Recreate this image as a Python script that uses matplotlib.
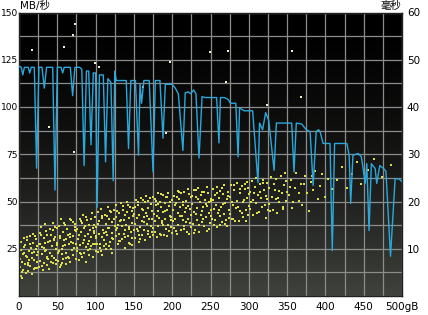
import matplotlib
matplotlib.use("Agg")
import matplotlib.pyplot as plt
import numpy as np
from matplotlib.ticker import MultipleLocator

# ---------------- data ----------------
# transfer rate (MB/s) vs position (GB)
TR_GB = [0, 3, 5, 7, 12, 14, 16, 20, 23, 26, 30, 33, 36, 44, 47, 50, 55, 57, 59, 67,
         70, 73, 79, 82, 85, 88, 91, 94, 97, 100, 102, 105, 110, 113, 116, 120, 123, 125,
         127, 133, 140, 143, 146, 152, 156, 158, 160, 163, 170, 175, 178, 184, 188, 191,
         197, 200, 204, 208, 214, 217, 221, 224, 228, 231, 235, 239, 243, 258, 261, 263,
         268, 273, 276, 283, 286, 288, 294, 297, 305, 312, 314, 318, 322, 326, 333, 336,
         345, 356, 359, 362, 369, 375, 380, 384, 388, 391, 393, 397, 406, 409, 412, 428,
         431, 433, 436, 443, 447, 452, 454, 457, 460, 465, 467, 471, 476, 479, 485, 491,
         496, 500]
TR_MB = [121.5, 121, 117, 121, 121, 118, 121, 121, 67.6, 121, 121, 110, 121, 121, 56, 121,
         121, 118, 121, 121, 106, 121, 121, 120, 69, 119, 119, 80, 118, 118, 47, 117, 117,
         71, 115, 113, 61, 119, 114, 114, 114, 78, 114, 114, 74.5, 112, 102, 114, 114, 65.6,
         114, 114, 83.5, 112, 112, 112, 110, 107, 77, 107.5, 108, 107, 109, 107, 73, 105.5,
         105, 105, 81, 105, 105, 104, 102, 102, 73.6, 99.5, 98, 98, 98, 60, 91.5, 88, 97,
         93, 66.5, 91.5, 91.5, 91.5, 65.6, 91.5, 91, 88, 87, 58.5, 87, 88, 87, 80.7, 80.7,
         24, 80.7, 80.7, 74.5, 49, 74.5, 75.4, 73.6, 59.6, 70, 34.6, 70, 67.4, 59.6, 69,
         67.4, 66, 21, 62, 62, 60.5]

# access time (ms) vs position (GB)
AT_GB = [1, 2, 2, 3, 4, 5, 5, 6, 7, 8, 8, 9, 10, 11, 12, 12, 13, 14, 15, 16, 17, 17, 18, 19, 20, 21, 22, 23, 24, 24,
         25, 26, 27, 27, 28, 29, 30, 31, 32, 32, 33, 34, 35, 36, 37, 37, 38, 39, 40, 41, 42, 42, 43, 44, 45, 46, 46, 47, 48, 48, 49, 49,
         50, 51, 52, 52, 53, 54, 55, 56, 57, 57, 58, 59, 60, 61, 62, 62, 63, 64, 65, 66, 67, 67, 68, 69, 70, 71, 71, 72, 73, 74, 74, 75,
         76, 76, 77, 78, 79, 80, 81, 81, 82, 83, 84, 85, 86, 86, 87, 88, 89, 90, 91, 91, 92, 93, 94, 95, 96, 96, 97, 98, 99, 99, 100, 100,
         101, 102, 103, 103, 104, 105, 106, 107, 108, 108, 109, 110, 111, 112, 113, 113, 114, 115, 116, 117, 118, 118, 119, 120, 121, 122, 122, 123, 124, 125,
         126, 127, 127, 128, 129, 130, 131, 132, 132, 133, 134, 135, 136, 137, 138, 138, 139, 140, 141, 142, 143, 143, 144, 145, 146, 147, 147, 148, 149, 150,
         151, 152, 152, 153, 154, 155, 156, 157, 157, 158, 159, 160, 161, 162, 163, 163, 164, 165, 166, 167, 168, 168, 169, 170, 171, 172, 172, 173, 174, 175,
         176, 177, 177, 178, 179, 180, 181, 182, 182, 183, 184, 185, 186, 187, 188, 188, 189, 190, 191, 192, 193, 193, 194, 195, 196, 197, 197, 198, 199, 200,
         201, 202, 203, 204, 205, 206, 207, 207, 208, 209, 210, 211, 212, 213, 214, 215, 216, 217, 218, 218, 219, 220, 221, 222, 223, 224, 224, 225,
         226, 227, 228, 229, 230, 231, 232, 233, 234, 235, 236, 237, 238, 239, 240, 241, 242, 243, 244, 245, 246, 247, 248, 249, 250, 250,
         251, 252, 253, 254, 255, 256, 257, 258, 259, 260, 261, 262, 263, 264, 265, 266, 267, 268, 269, 270, 271, 272, 273, 274,
         275, 276, 277, 279, 280, 281, 283, 284, 285, 287, 288, 289, 291, 292, 293, 295, 296, 297, 298, 299, 300, 300,
         301, 302, 304, 305, 306, 308, 309, 310, 312, 313, 314, 316, 317, 318, 320, 321, 322, 323, 324, 325,
         326, 327, 329, 330, 332, 333, 335, 336, 337, 339, 340, 342, 343, 345, 346, 348, 349, 350,
         352, 355, 357, 360, 362, 365, 368, 370, 373, 376, 379, 381, 384, 387, 390, 393, 396, 400, 404, 408,
         415, 422, 428, 435, 441, 447, 455, 463, 474, 485]
AT_MS = [6.1, 9.8, 4.2, 11.5, 7.3, 8.9, 5.6, 12.3, 9.1, 6.8, 10.7, 4.9, 8.2, 11.9, 7.0, 5.3, 9.6, 12.8, 6.4, 10.1, 8.0, 4.7, 11.2, 7.7, 9.4, 6.0, 12.1, 8.6, 10.5, 5.9,
         9.3, 6.2, 13.4, 11.0, 7.5, 14.6, 8.8, 5.4, 12.2, 10.1, 7.0, 15.2, 9.7, 6.5, 12.9, 8.3, 11.4, 5.8, 14.1, 9.0, 7.2, 13.0, 10.6, 6.9, 15.5, 8.1, 11.8, 12.4, 7.6, 9.9, 14.3, 10.8,
         11.2, 7.4, 14.8, 9.6, 6.1, 12.7, 16.2, 8.9, 10.5, 13.6, 7.8, 11.9, 15.0, 9.2, 6.7, 12.1, 14.2, 8.3, 10.9, 16.4, 7.1, 13.1, 11.5, 9.8, 15.7, 8.6, 12.6, 10.2, 14.5, 7.9, 11.0, 13.8,
         9.5, 14.1, 12.0, 7.6, 16.3, 10.7, 13.5, 8.8, 15.4, 11.3, 17.2, 9.1, 12.8, 14.9, 7.3, 10.4, 16.0, 13.2, 8.6, 11.7, 15.1, 9.9, 12.5, 17.6, 10.9, 14.4, 8.2, 13.8, 11.1, 16.7, 12.2, 9.6,
         14.6, 11.0, 17.8, 9.3, 13.1, 15.9, 10.2, 18.4, 12.4, 16.5, 8.7, 14.0, 11.8, 17.1, 13.6, 9.9, 15.3, 12.9, 18.9, 10.6, 16.2, 14.3, 11.4, 17.7, 13.3, 9.0, 15.6, 12.0, 18.1, 14.8,
         16.8, 12.6, 19.2, 14.4, 10.9, 17.5, 13.2, 15.8, 11.7, 19.7, 14.9, 12.1, 18.3, 16.0, 10.2, 13.9, 17.2, 15.1, 19.9, 12.8, 16.6, 11.3, 14.2, 18.8, 13.5, 17.9, 15.4, 10.8, 16.9, 14.0,
         15.2, 18.9, 12.3, 20.4, 16.5, 13.7, 19.3, 11.4, 17.1, 14.6, 20.8, 15.9, 12.9, 18.2, 16.8, 14.0, 19.8, 11.9, 17.6, 15.3, 20.1, 13.2, 18.6, 16.2, 12.5, 19.5, 14.8, 17.9, 13.6, 21.0,
         17.3, 13.5, 20.6, 15.8, 19.2, 12.4, 18.0, 21.7, 14.9, 16.6, 20.0, 13.0, 18.8, 15.4, 21.3, 17.7, 12.9, 19.6, 16.2, 14.1, 20.9, 18.3, 15.0, 21.9, 13.8, 17.0, 19.9, 16.8, 14.5, 20.4,
         18.1, 14.3, 21.2, 16.4, 19.7, 13.2, 22.3, 17.5, 15.1, 20.6, 18.8, 13.9, 21.8, 16.9, 19.2, 14.8, 22.0, 17.8, 15.6, 20.2, 13.5, 19.0, 16.3, 21.5, 18.4, 14.6, 20.9, 17.1,
         19.5, 15.2, 22.4, 17.8, 14.0, 20.9, 18.6, 16.1, 22.8, 13.6, 19.9, 17.2, 21.4, 15.7, 18.9, 22.1, 14.9, 20.3, 16.8, 19.1, 13.8, 21.7, 17.5, 15.4, 20.6, 18.2,
         20.1, 16.3, 22.7, 18.4, 15.0, 21.3, 19.2, 14.6, 23.1, 17.6, 20.8, 16.9, 22.2, 18.9, 15.7, 21.6, 17.3, 23.4, 19.7, 16.0, 20.5, 14.8, 22.0, 18.1,
         21.0, 17.4, 23.5, 19.3, 16.2, 22.4, 18.7, 24.0, 20.2, 15.8, 21.9, 17.9, 23.2, 19.8, 16.8, 22.6, 18.3, 20.7, 24.1, 17.1, 21.5, 19.0,
         22.0, 18.5, 24.4, 20.3, 17.2, 23.1, 19.6, 25.0, 21.4, 17.8, 23.7, 20.8, 18.9, 24.6, 22.5, 19.3, 16.6, 21.1, 23.9, 18.2,
         22.8, 19.4, 25.1, 21.0, 18.1, 23.6, 20.5, 24.8, 17.5, 22.2, 19.9, 25.5, 21.7, 18.8, 23.4, 20.2, 24.3, 22.0,
         21.3, 24.6, 18.7, 22.9, 26.0, 20.1, 23.8, 19.2, 25.3, 21.8, 17.9, 24.1, 22.4, 26.5, 20.6, 23.2, 25.8, 21.0, 24.8, 22.6,
         24.5, 27.2, 22.8, 25.9, 28.3, 23.6, 26.7, 29.0, 25.2, 27.8]

# further access-time samples read from the dense part of the cloud
AT2_GB = [1.5, 3.5, 6.5, 9.5, 11.5, 14.5, 16.5, 19.5, 21.5, 23.5, 26.5, 28.5, 30.5, 33.5, 35.5, 38.5, 40.5, 43.5, 45.5, 47.5,
          4.5, 13.5, 18.5, 29.5, 36.5, 44.5, 10.5, 22.5, 34.5, 48.5,
          50.5, 53.5, 55.5, 58.5, 60.5, 63.5, 65.5, 68.5, 70.5, 72.5, 75.5, 78.5, 80.5, 82.5, 85.5, 87.5, 90.5, 92.5, 94.5, 97.5,
          54.5, 61.5, 66.5, 73.5, 79.5, 84.5, 89.5, 93.5, 98.5, 56.5,
          100.5, 103.5, 105.5, 108.5, 110.5, 113.5, 116.5, 118.5, 120.5, 123.5, 126.5, 128.5, 130.5, 133.5, 135.5, 138.5, 140.5, 143.5, 145.5, 148.5,
          107.5, 115.5, 121.5, 129.5, 136.5, 142.5, 147.5, 111.5,
          150.5, 153.5, 155.5, 158.5, 160.5, 163.5, 165.5, 168.5, 170.5, 173.5, 175.5, 178.5, 180.5, 183.5, 185.5, 188.5, 190.5, 193.5, 195.5, 198.5,
          156.5, 162.5, 167.5, 174.5, 181.5, 186.5, 192.5, 199.5,
          200.5, 203.5, 205.5, 208.5, 210.5, 213.5, 215.5, 218.5, 220.5, 223.5, 225.5, 228.5, 230.5, 233.5, 235.5, 238.5, 240.5, 243.5, 245.5, 248.5,
          206.5, 214.5, 222.5, 231.5, 239.5, 247.5,
          250.5, 253.5, 256.5, 258.5, 261.5, 264.5, 266.5, 269.5, 272.5, 274.5, 277.5, 280.5, 282.5, 285.5, 288.5, 290.5, 293.5, 296.5, 298.5,
          262.5, 278.5, 294.5,
          303, 307, 311, 315, 319, 324, 328, 334, 338, 344, 347, 354, 358, 366, 372, 383]
AT2_MS = [7.9, 5.1, 10.3, 8.4, 6.6, 11.0, 9.2, 5.7, 12.6, 7.1, 10.9, 12.9, 6.3, 9.5, 13.8, 7.9, 11.6, 8.5, 12.0, 14.7,
          3.9, 7.6, 13.1, 10.4, 8.0, 14.0, 12.4, 9.9, 11.3, 6.8,
          9.0, 12.2, 7.0, 15.5, 10.8, 13.0, 8.1, 16.0, 11.3, 14.0, 10.2, 13.0, 15.9, 8.3, 11.9, 16.8, 9.7, 13.9, 10.6, 15.0,
          6.6, 8.0, 12.4, 15.2, 9.0, 14.3, 11.1, 16.4, 13.3, 10.0,
          12.7, 15.3, 10.9, 17.0, 13.4, 11.0, 14.4, 18.0, 10.0, 16.4, 13.9, 18.0, 11.6, 16.1, 19.0, 12.4, 17.8, 14.6, 11.1, 18.6,
          9.6, 16.9, 12.3, 15.0, 13.1, 19.3, 12.2, 10.5,
          17.4, 14.1, 19.9, 12.0, 18.4, 15.7, 21.2, 13.8, 20.7, 16.4, 14.3, 20.1, 16.9, 13.2, 21.5, 15.1, 18.0, 12.7, 19.0, 16.1,
          13.0, 20.3, 17.0, 12.9, 19.4, 15.8, 21.0, 13.4,
          15.9, 19.3, 13.7, 22.1, 17.0, 20.0, 14.1, 18.6, 22.6, 15.5, 21.1, 13.4, 17.3, 20.5, 15.0, 22.0, 16.3, 19.4, 23.0, 14.2,
          21.0, 16.0, 13.2, 22.5, 18.0, 19.8,
          17.0, 20.4, 16.1, 21.9, 18.3, 22.9, 19.5, 15.3, 21.2, 16.6, 19.9, 23.4, 15.9, 18.9, 22.6, 17.6, 20.4, 15.9, 22.8,
          15.0, 16.4, 23.7,
          19.8, 21.7, 17.5, 22.0, 24.0, 20.5, 17.9, 22.5, 20.8, 18.4, 26.0, 23.0, 19.9, 21.8, 23.6, 25.5]

# outlier access times (ms)
OUT_GB = [17, 59, 70.5, 73, 99, 104, 39, 72, 162, 192, 197, 249, 273, 270, 356, 368, 324]
OUT_MS = [52.1, 52.8, 55.3, 57.5, 49.4, 48.5, 35.7, 30.4, 44.3, 34.5, 49.6, 51.7, 51.9, 45.3, 51.9, 42.1, 40.4]

X_TICKS = [0, 50, 100, 150, 200, 250, 300, 350, 400, 450, 500]
X_LABELS = ["0", "50", "100", "150", "200", "250", "300", "350", "400", "450", "500gB"]
MB_TICKS = [25, 50, 75, 100, 125, 150]
MB_LABELS = ["25", "50", "75", "100", "125", "150"]
MS_TICKS = [10, 20, 30, 40, 50, 60]
MS_LABELS = ["10", "20", "30", "40", "50", "60"]

# ---------------- figure ----------------
W, H = 428, 315
fig = plt.figure(figsize=(W / 100, H / 100), dpi=100, facecolor="white")
L, R, T, B = 19, 402, 12.5, 296
ax = fig.add_axes([L / W, (H - B) / H, (R - L) / W, (B - T) / H])
ax2 = ax.twinx()
FS = 7.5
FAM = ["DejaVu Sans", "Noto Sans CJK SC"]

# gradient background
n = 256
t = np.linspace(0, 1, n)[:, None]          # 0 top -> 1 bottom
top = np.array([0.0, 0.0, 0.0])
bot = np.array([0.25, 0.26, 0.24])
g = (t ** 1.6)[:, :, None] * (bot - top) + top
ax.imshow(g, extent=[0, 500, 0, 60], aspect="auto", zorder=0, origin="upper")

# access-time axis (right)
ax.set_xlim(0, 500)
ax.set_ylim(0, 60)
ax.set_xticks(X_TICKS)
ax.set_xticklabels(X_LABELS)
ax.xaxis.set_minor_locator(MultipleLocator(25))
ax.set_yticks(MS_TICKS)
ax.set_yticklabels(MS_LABELS)
ax.yaxis.set_minor_locator(MultipleLocator(5))
ax.grid(True, which="both", color="#8c8c8c", linewidth=0.9, zorder=0.5)
ax.set_axisbelow(True)
ax.tick_params(which="both", length=0, labelsize=FS)
ax.tick_params(axis="x", pad=4)
ax.tick_params(axis="y", which="both", pad=3.5, left=False, right=False,
               labelright=True, labelleft=False)

ax.scatter(AT_GB, AT_MS, s=1.5, marker="s", color="#dede48", linewidths=0, zorder=2)
ax.scatter(AT2_GB, AT2_MS, s=1.5, marker="s", color="#dede48", linewidths=0, zorder=2)
ax.scatter(OUT_GB, OUT_MS, s=1.5, marker="s", color="#f0f0d0", linewidths=0, zorder=2)

for s in ax.spines.values():
    s.set_color("#202020")
    s.set_linewidth(1)

# transfer-rate axis (left)
ax2.set_ylim(0, 150)
ax2.plot(TR_GB, TR_MB, color="#2aa8dc", linewidth=1.0, zorder=3)
ax2.set_yticks(MB_TICKS)
ax2.set_yticklabels(MB_LABELS)
ax2.tick_params(axis="y", which="both", length=0, pad=0.8, labelsize=6.5,
                left=False, right=False, labelleft=True, labelright=False)
for s in ax2.spines.values():
    s.set_visible(False)

fig.text(20 / W, 1 - 6 / H, "MB/秒", ha="left", va="center", fontsize=FS, family=FAM)
fig.text(401 / W, 1 - 5.5 / H, "毫秒", ha="right", va="center", fontsize=FS, family=FAM)

fig.savefig("out.png", dpi=100, facecolor="white")
